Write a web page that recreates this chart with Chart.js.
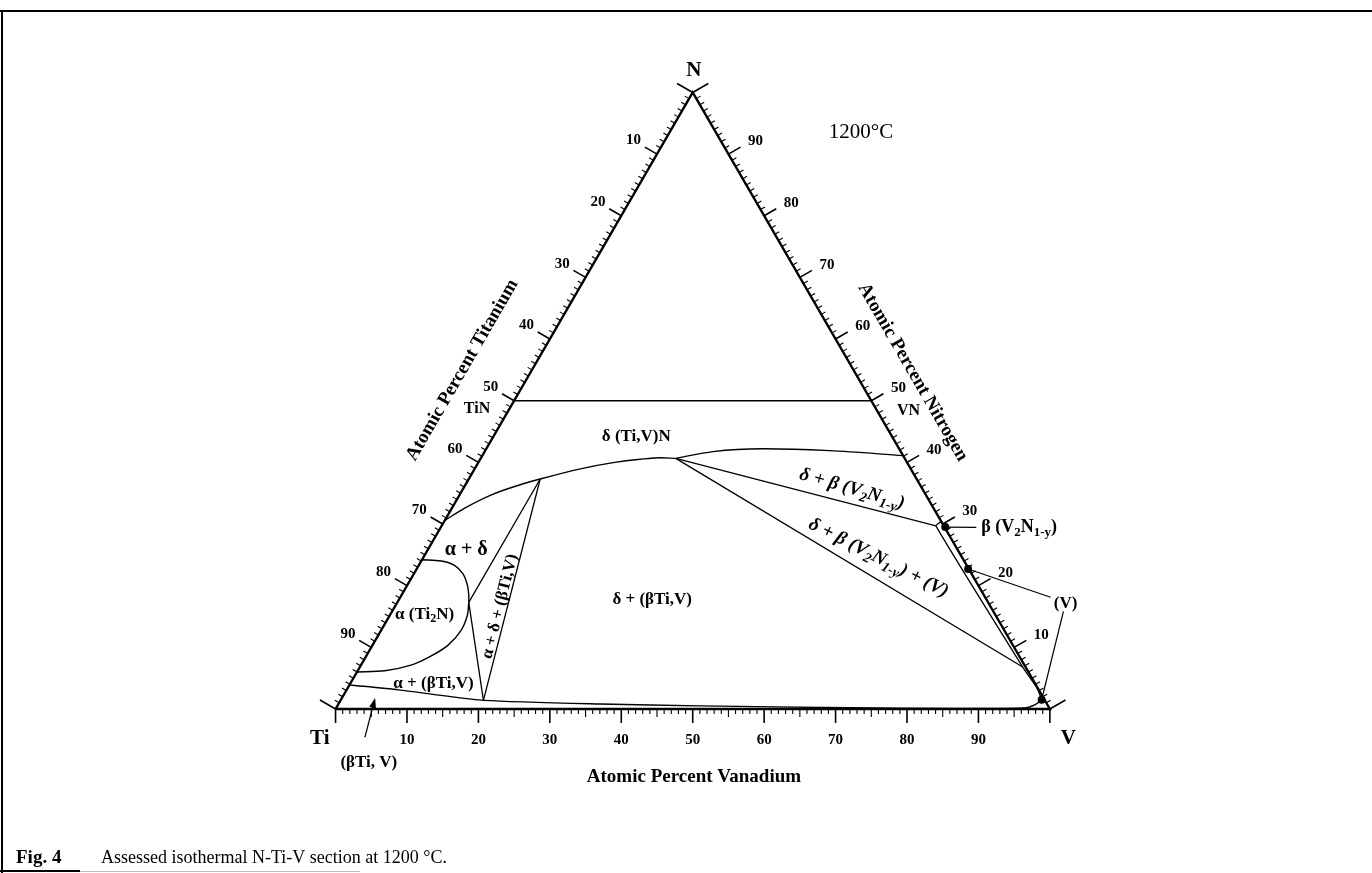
<!DOCTYPE html>
<html>
<head>
<meta charset="utf-8">
<title>N-Ti-V isothermal section, 1200 °C</title>
<script src="https://cdn.jsdelivr.net/npm/chart.js@4/dist/chart.umd.min.js"></script>
<style>
  html, body { margin: 0; padding: 0; background: #ffffff; }
  #wrap { position: relative; width: 1372px; height: 873px; }
  canvas { display: block; }
</style>
</head>
<body>
<div id="wrap"><canvas id="chart" width="1372" height="873"></canvas></div>
<script>
// ---- Phase boundaries, as compositions [at.% V, at.% N] (Ti is the balance) ----
const triangleEdges   = [[0, 0], [100, 0], [0, 100], [0, 0]];
const nitrideLine     = [[0, 50], [50, 50]];
const deltaLowerTi    = [[0, 30.6], [1.75, 32.55], [4.4, 34.7], [7.4, 36.25], [10.0, 37.3], [14.8, 38.95], [18.9, 39.95], [22.4, 40.5], [25.1, 40.75], [27.3, 40.65]];
const deltaLowerV     = [[27.3, 40.65], [32.0, 41.75], [38.7, 42.2], [48.2, 41.9], [58.9, 41.1]];
const alphaUpper      = [[0, 24.2], [2.8, 24.0], [5.0, 23.3], [6.9, 21.9], [8.4, 20.1], [9.4, 18.5], [10.0, 17.3]];
const alphaLower      = [[10.0, 17.3], [10.85, 15.2], [11.2, 12.8], [10.6, 10.4], [9.1, 8.6], [7.1, 7.15], [3.8, 6.2], [0, 6.0]];
const bccBoundary     = [[0, 3.9], [7.3, 3.1], [13.7, 2.2], [20.0, 1.4], [36.6, 0.8], [50.8, 0.5], [71.8, 0.2], [85.8, 0.1], [96.4, 0.16], [97.6, 0.7], [98.1, 1.5]];
const tieAlphaDelta   = [[10.0, 17.3], [10.0, 37.3]];
const tieAlphaBcc     = [[10.0, 17.3], [20.0, 1.4]];
const tieDeltaBcc     = [[10.0, 37.3], [20.0, 1.4]];
const tieDeltaBeta    = [[27.3, 40.65], [69.2, 29.7]];
const tieDeltaV       = [[27.3, 40.65], [92.8, 6.8]];
const betaInner       = [[69.6, 30.4], [69.2, 29.7], [92.8, 6.8], [96.6, 3.3], [98.1, 1.5]];
const phasePoints     = [[70.6, 29.5], [77.2, 22.7], [98.1, 1.5]];

// ---- Edge scales ----
const titaniumTicks = [10, 20, 30, 40, 50, 60, 70, 80, 90];   // left edge, Ti at.%
const nitrogenTicks = [90, 80, 70, 60, 50, 40, 30, 20, 10];   // right edge, N at.%
const vanadiumTicks = [10, 20, 30, 40, 50, 60, 70, 80, 90];   // bottom edge, V at.%

// ternary composition -> plane (units: percent of the triangle side)
const H = Math.sqrt(3) / 2;
const toXY = ([v, n]) => ({ x: v + n / 2, y: n * H });

const SERIF = "'Liberation Serif', 'Times New Roman', serif";

// Text placed in plane units; "_{..}" marks a subscript
const labels = [
  { text: 'N', at: [50.17, 89.7], size: 21, bold: true },
  { text: '1200°C', at: [73.56, 80.93], size: 21, bold: false },
  { text: 'Ti', at: [-2.2, -4.1], size: 21, bold: true },
  { text: 'V', at: [102.6, -4.2], size: 21, bold: true },
  { text: 'Atomic Percent Vanadium', at: [50.17, -9.5], size: 19, bold: true },
  { text: 'Atomic Percent Titanium', at: [17.75, 47.6], size: 19, bold: true, rot: -60 },
  { text: 'Atomic Percent Nitrogen', at: [80.8, 47.3], size: 19, bold: true, rot: 60 },
  { text: 'TiN', at: [19.8, 42.2], size: 16, bold: true },
  { text: 'VN', at: [80.2, 41.9], size: 16, bold: true },
  { text: 'δ (Ti,V)N', at: [42.1, 38.3], size: 17, bold: true },
  { text: 'δ + β (V_{2}N_{1-y})', at: [72.3, 30.9], size: 19, bold: true, italic: true, rot: 16 },
  { text: 'δ + β (V_{2}N_{1-y}) + (V)', at: [76.0, 21.2], size: 19, bold: true, italic: true, rot: 27 },
  { text: 'δ + (βTi,V)', at: [44.33, 15.4], size: 17, bold: true },
  { text: 'α + δ', at: [18.3, 22.4], size: 20, bold: true },
  { text: 'α (Ti_{2}N)', at: [12.46, 13.3], size: 17, bold: true },
  { text: 'α + (βTi,V)', at: [13.71, 3.6], size: 17, bold: true },
  { text: 'α + δ + (βTi,V)', at: [23.03, 14.4], size: 17, bold: true, rot: -76 },
  { text: 'β (V_{2}N_{1-y})', at: [90.4, 25.5], size: 18, bold: true, align: 'left' },
  { text: '(V)', at: [102.2, 14.8], size: 17, bold: true },
  { text: '(βTi, V)', at: [4.66, -7.5], size: 17, bold: true }
];

// Leader lines from the marked phases to their labels (plane units)
const leaders = [
  { from: phasePoints[0], to: [89.7, 25.5] },
  { from: phasePoints[1], to: [100.1, 15.7] },
  { from: phasePoints[2], to: [101.9, 13.7] }
];
const betaArrow = { tail: [4.11, -3.97], tip: [5.54, 1.55] };

function lineSet(pts, width, smooth) {
  const ds = {
    data: pts.map(toXY),
    showLine: true,
    borderColor: '#000',
    backgroundColor: '#000',
    borderWidth: width,
    pointRadius: 0,
    fill: false
  };
  if (smooth === 'monotone') ds.cubicInterpolationMode = 'monotone';
  else ds.tension = smooth || 0;
  return ds;
}

// Draw text with optional subscripts, rotated about its anchor
function drawRich(ctx, spec, px, py) {
  const parts = [];
  const re = /_\{([^}]*)\}/g;
  let last = 0, m;
  while ((m = re.exec(spec.text)) !== null) {
    if (m.index > last) parts.push({ t: spec.text.slice(last, m.index), sub: false });
    parts.push({ t: m[1], sub: true });
    last = re.lastIndex;
  }
  if (last < spec.text.length) parts.push({ t: spec.text.slice(last), sub: false });
  const fontFor = (sub) => `${spec.italic ? 'italic ' : ''}${spec.bold ? 'bold ' : ''}${sub ? Math.round(spec.size * 0.72) : spec.size}px ${SERIF}`;
  let total = 0;
  parts.forEach(p => { ctx.font = fontFor(p.sub); p.w = ctx.measureText(p.t).width; total += p.w; });
  ctx.save();
  ctx.translate(px, py);
  ctx.rotate((spec.rot || 0) * Math.PI / 180);
  ctx.fillStyle = '#000';
  ctx.textBaseline = 'middle';
  ctx.textAlign = 'left';
  let cx = spec.align === 'left' ? 0 : -total / 2;
  parts.forEach(p => {
    ctx.font = fontFor(p.sub);
    ctx.fillText(p.t, cx, p.sub ? spec.size * 0.3 : 0);
    cx += p.w;
  });
  ctx.restore();
}

const decorations = {
  id: 'ternaryDecorations',
  beforeDraw(chart) {
    const ctx = chart.ctx;
    ctx.save();
    ctx.fillStyle = '#fff';
    ctx.fillRect(0, 0, chart.width, chart.height);
    // figure frame
    ctx.strokeStyle = '#000';
    ctx.lineWidth = 2;
    ctx.beginPath();
    ctx.moveTo(0, 11); ctx.lineTo(chart.width, 11);
    ctx.moveTo(2, 11); ctx.lineTo(2, chart.height);
    ctx.moveTo(0, 871); ctx.lineTo(80, 871);
    ctx.stroke();
    ctx.strokeStyle = '#bbb';
    ctx.lineWidth = 1;
    ctx.beginPath(); ctx.moveTo(80, 871.5); ctx.lineTo(360, 871.5); ctx.stroke();
    // caption
    ctx.fillStyle = '#000';
    ctx.textBaseline = 'middle';
    ctx.font = `bold 19px ${SERIF}`;
    ctx.fillText('Fig. 4', 16, 858);
    ctx.font = `18px ${SERIF}`;
    ctx.fillText('Assessed isothermal N-Ti-V section at 1200 °C.', 101, 858);
    ctx.restore();
  },
  afterDatasetsDraw(chart) {
    const { ctx, scales: { x: sx, y: sy } } = chart;
    const pix = (p) => [sx.getPixelForValue(p.x), sy.getPixelForValue(p.y)];
    const c30 = Math.cos(Math.PI / 6), s30 = 0.5;
    const edges = [
      { at: i => [0, 100 - i], nrm: [-c30, -s30], side: true },   // Ti scale
      { at: i => [100 - i, i], nrm: [c30, -s30], side: true },    // N scale
      { at: i => [i, 0], nrm: [0, 1], side: false }               // V scale
    ];
    ctx.save();
    ctx.strokeStyle = '#000';
    ctx.lineCap = 'butt';
    edges.forEach(e => {
      for (let i = 0; i <= 100; i++) {
        let len;
        if (e.side) len = (i === 0 || i === 100) ? 18 : (i % 10 === 0 ? 14 : 5);
        else len = (i === 0 || i === 100 || i % 10 === 0) ? 14 : (i % 5 === 0 ? 8 : 5);
        const [px, py] = pix(toXY(e.at(i)));
        ctx.lineWidth = (len >= 14) ? 1.6 : 1.1;
        ctx.beginPath();
        ctx.moveTo(px, py);
        ctx.lineTo(px + e.nrm[0] * len, py + e.nrm[1] * len);
        ctx.stroke();
      }
    });
    // scale numbers
    ctx.fillStyle = '#000';
    ctx.font = `bold 15px ${SERIF}`;
    ctx.textAlign = 'center';
    ctx.textBaseline = 'middle';
    titaniumTicks.forEach(t => {
      const [px, py] = pix(toXY([0, 100 - t]));
      ctx.fillText(String(t), px - c30 * 27, py - s30 * 27);
    });
    nitrogenTicks.forEach(n => {
      const [px, py] = pix(toXY([100 - n, n]));
      ctx.fillText(String(n), px + c30 * 29 + 2, py - s30 * 29 + 2);
    });
    vanadiumTicks.forEach(v => {
      const [px, py] = pix(toXY([v, 0]));
      ctx.fillText(String(v), px, py + 31);
    });
    // leaders
    ctx.lineWidth = 1.2;
    leaders.forEach(l => {
      const [x0, y0] = pix(toXY(l.from));
      const [x1, y1] = pix({ x: l.to[0], y: l.to[1] });
      ctx.beginPath(); ctx.moveTo(x0, y0); ctx.lineTo(x1, y1); ctx.stroke();
    });
    // arrow to the (βTi,V) band
    const [ax0, ay0] = pix({ x: betaArrow.tail[0], y: betaArrow.tail[1] });
    const [ax1, ay1] = pix({ x: betaArrow.tip[0], y: betaArrow.tip[1] });
    const ang = Math.atan2(ay1 - ay0, ax1 - ax0);
    ctx.beginPath(); ctx.moveTo(ax0, ay0); ctx.lineTo(ax1 - Math.cos(ang) * 6, ay1 - Math.sin(ang) * 6); ctx.stroke();
    ctx.beginPath();
    ctx.moveTo(ax1, ay1);
    ctx.lineTo(ax1 - Math.cos(ang) * 10 + Math.sin(ang) * 3.5, ay1 - Math.sin(ang) * 10 - Math.cos(ang) * 3.5);
    ctx.lineTo(ax1 - Math.cos(ang) * 10 - Math.sin(ang) * 3.5, ay1 - Math.sin(ang) * 10 + Math.cos(ang) * 3.5);
    ctx.closePath(); ctx.fill();
    ctx.restore();
    // text
    labels.forEach(l => {
      const [px, py] = pix({ x: l.at[0], y: l.at[1] });
      drawRich(ctx, l, px, py);
    });
  }
};

// plane window: 7.185 px per unit on both axes, Ti corner at (333.5, 711.5)
const K = 7.185, OX = 333.5, OY = 711.5, W = 1372, HT = 873;

new Chart(document.getElementById('chart'), {
  type: 'scatter',
  data: {
    datasets: [
      lineSet(triangleEdges, 2.4),
      lineSet(nitrideLine, 1.4),
      lineSet(deltaLowerTi, 1.4, 'monotone'),
      lineSet(deltaLowerV, 1.4, 'monotone'),
      lineSet(alphaUpper, 1.4, 0.3),
      lineSet(alphaLower, 1.4, 0.3),
      lineSet(bccBoundary, 1.4, 0.25),
      lineSet(tieAlphaDelta, 1.3),
      lineSet(tieAlphaBcc, 1.3),
      lineSet(tieDeltaBcc, 1.3),
      lineSet(tieDeltaBeta, 1.3),
      lineSet(tieDeltaV, 1.3),
      lineSet(betaInner, 1.3, 0.15),
      {
        data: phasePoints.map(toXY),
        showLine: false,
        pointRadius: 4,
        pointBackgroundColor: '#000',
        pointBorderColor: '#000',
        pointBorderWidth: 0
      }
    ]
  },
  options: {
    responsive: false,
    animation: false,
    devicePixelRatio: 1,
    layout: { padding: 0 },
    plugins: { legend: { display: false }, tooltip: { enabled: false } },
    events: [],
    scales: {
      x: { type: 'linear', display: false, min: -OX / K, max: (W - OX) / K },
      y: { type: 'linear', display: false, min: -(HT - OY) / K, max: OY / K }
    }
  },
  plugins: [decorations]
});
</script>
</body>
</html>
